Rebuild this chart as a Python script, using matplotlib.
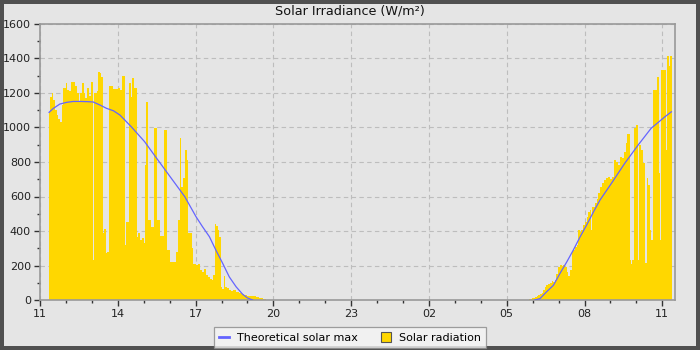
# Solar irradiance over one day: measured radiation and theoretical max

import matplotlib
matplotlib.use("Agg")
import matplotlib.pyplot as plt
from matplotlib.lines import Line2D
from matplotlib.patches import Patch
from matplotlib.ticker import MultipleLocator

# Measured solar radiation, step values (start time, W/m2)
sun_times = [
    "11:21", "11:23", "11:28", "11:31", "11:35", "11:39", "11:42", "11:46",
    "11:50", "11:54", "12:00", "12:03", "12:08", "12:11", "12:12", "12:22",
    "12:25", "12:30", "12:33", "12:37", "12:42", "12:45", "12:48", "12:53",
    "12:57", "13:03", "13:04", "13:11", "13:15", "13:19", "13:22", "13:25",
    "13:28", "13:33", "13:36", "13:39", "13:50", "14:00", "14:04", "14:10",
    "14:17", "14:20", "14:25", "14:30", "14:33", "14:38", "14:44", "14:47",
    "14:51", "14:56", "15:01", "15:04", "15:05", "15:10", "15:18", "15:24",
    "15:31", "15:37", "15:48", "15:54", "16:00", "16:15", "16:19", "16:24",
    "16:27", "16:31", "16:35", "16:40", "16:43", "16:52", "16:55", "17:01",
    "17:06", "17:10", "17:15", "17:19", "17:24", "17:29", "17:33", "17:38",
    "17:41", "17:44", "17:48", "17:51", "17:55", "17:59", "18:02", "18:05",
    "18:08", "18:12", "18:18", "18:23", "18:27", "18:33", "18:41", "18:47",
    "18:53", "18:59", "19:04", "19:19", "19:27", "19:35", "19:42",
    "05:51", "05:58", "06:05", "06:09", "06:13", "06:17", "06:21", "06:25",
    "06:28", "06:32", "06:36", "06:40", "06:44", "06:48", "06:52", "06:55",
    "06:59", "07:03", "07:07", "07:11", "07:15", "07:19", "07:22", "07:26",
    "07:30", "07:34", "07:38", "07:42", "07:46", "07:49", "07:53", "07:57",
    "08:01", "08:05", "08:09", "08:13", "08:16", "08:18", "08:24", "08:28",
    "08:31", "08:36", "08:40", "08:45", "08:50", "08:54", "08:59", "09:04",
    "09:08", "09:13", "09:18", "09:22", "09:27", "09:31", "09:36", "09:39",
    "09:45", "09:48", "09:51", "09:54", "09:59", "10:04", "10:07", "10:11",
    "10:16", "10:20", "10:24", "10:27", "10:31", "10:35", "10:39", "10:47",
    "10:52", "10:55", "10:58", "11:08", "11:12", "11:15", "11:18", "11:22",
]
sun_vals = [
    1092, 1178, 1198, 1160, 1100, 1070, 1050, 1034,
    1130, 1227, 1256, 1220, 1210, 734, 1265, 1240,
    1200, 1150, 1200, 1256, 1200, 1170, 1230, 1180,
    1265, 232, 1200, 1210, 1323, 1315, 1290, 386,
    410, 270, 280, 1240, 1225, 1227, 1215, 1298,
    320, 454, 1256, 1175, 1285, 1230, 367, 386,
    348, 357, 328, 782, 1150, 464, 425, 995,
    464, 370, 985, 290, 222, 280, 464, 937,
    657, 705, 870, 811, 386, 300, 210, 202,
    211, 173, 163, 182, 144, 134, 124, 114,
    144, 440, 429, 405, 367, 76, 66, 138,
    76, 72, 60, 52, 56, 47, 41, 37,
    31, 25, 21, 17, 12, 6, 0,
    8, 12, 17, 21, 27, 33, 41, 56,
    76, 85, 95, 99, 110, 105, 114, 153,
    192, 202, 196, 202, 192, 163, 138, 173,
    279, 289, 308, 318, 405, 396, 405, 435,
    454, 483, 512, 522, 405, 541, 561, 584,
    620, 656, 676, 695, 705, 714, 700, 714,
    811, 801, 782, 831, 821, 859, 908, 963,
    230, 210, 230, 995, 1015, 230, 898, 870,
    792, 214, 705, 666, 405, 346, 1218, 1292,
    734, 346, 1335, 870, 1416, 1354, 1416, 0,
]

# Theoretical clear-sky maximum (afternoon part, then next morning)
pm_max_times = [
    "11:21", "11:31", "11:46", "12:02", "12:17", "12:33", "12:48", "13:03",
    "13:19", "13:34", "13:50", "14:05", "14:31", "15:02", "15:33", "16:04",
    "16:35", "17:01", "17:16", "17:32", "17:47", "18:03", "18:18", "18:34",
    "18:49", "19:00", "19:12",
]
pm_max_vals = [
    1088, 1111, 1136, 1146, 1151, 1151, 1150, 1148,
    1130, 1111, 1097, 1072, 1005, 918, 811, 705,
    599, 483, 425, 367, 289, 211, 134, 76,
    33, 12, 0,
]
am_max_times = [
    "06:05", "06:17", "06:32", "06:48", "07:03", "07:19", "07:34", "07:50",
    "08:05", "08:21", "08:36", "09:02", "09:33", "10:04", "10:34", "11:05",
    "11:21",
]
am_max_vals = [
    0, 8, 47, 85, 153, 221, 289, 367,
    435, 512, 580, 675, 792, 898, 995, 1060,
    1091,
]

tick_hours = [11, 14, 17, 20, 23, 26, 29, 32, 35]
tick_labels = ["11", "14", "17", "20", "23", "02", "05", "08", "11"]

BG = "#e5e5e5"
GOLD = "#ffd700"
BLUE = "#6464ff"


# "HH:MM" in time order -> hours, rolling past midnight into the next day
def to_hours(times, day=0):
    out = []
    for s in times:
        hh, mm = s.split(":")
        h = int(hh) + int(mm) / 60 + day
        if out and h < out[-1]:
            day += 24
            h += 24
        out.append(h)
    return out


fig = plt.figure(figsize=(7, 3.5), dpi=100)
fig.patch.set_facecolor(BG)
fig.patch.set_edgecolor("#505050")
fig.patch.set_linewidth(4.5)

ax = fig.add_axes([40 / 700, 50 / 350, 635 / 700, 276 / 350])
ax.set_facecolor(BG)

ax.fill_between(to_hours(sun_times), sun_vals, step="post",
                color=GOLD, linewidth=0, zorder=2)
ax.plot(to_hours(pm_max_times), pm_max_vals, color=BLUE,
        linewidth=0.9, zorder=3)
ax.plot(to_hours(am_max_times, day=24), am_max_vals, color=BLUE,
        linewidth=0.9, zorder=3)

ax.set_xlim(11, 35.49)
ax.set_ylim(0, 1600)
ax.set_xticks(tick_hours)
ax.set_xticklabels(tick_labels)
ax.xaxis.set_minor_locator(MultipleLocator(1))
ax.yaxis.set_major_locator(MultipleLocator(200))
ax.yaxis.set_minor_locator(MultipleLocator(100))
ax.tick_params(which="major", length=4.5, width=1, color="#333333",
               labelsize=8, labelcolor="#222222", pad=2)
ax.tick_params(which="minor", length=2.5, width=1, color="#333333")
ax.grid(True, which="major", color="#bdbdbd", linestyle=(0, (4, 3)),
        linewidth=0.8, zorder=1)
ax.set_axisbelow(True)
for sp in ax.spines.values():
    sp.set_color("#999999")
    sp.set_linewidth(1.2)

fig.text(0.5, 1 - 11 / 350, "Solar Irradiance (W/m²)", ha="center",
         va="center", fontsize=9.2, color="#111111")

handles = [
    Line2D([], [], color=BLUE, linewidth=2),
    Patch(facecolor=GOLD, edgecolor="#555555", linewidth=0.8),
]
leg = fig.legend(handles, ["Theoretical solar max", "Solar radiation"],
                 loc="center", bbox_to_anchor=(0.5, 1 - 337.5 / 350),
                 ncol=2, fontsize=8, frameon=True, fancybox=False,
                 handlelength=0.9, handleheight=0.9, handletextpad=0.8,
                 columnspacing=2.0, borderpad=0.45)
leg.get_frame().set_facecolor("#f5f5f5")
leg.get_frame().set_edgecolor("#888888")
leg.get_frame().set_linewidth(0.9)

fig.savefig("out.png", dpi=100, facecolor=fig.get_facecolor(),
            edgecolor=fig.get_edgecolor())
